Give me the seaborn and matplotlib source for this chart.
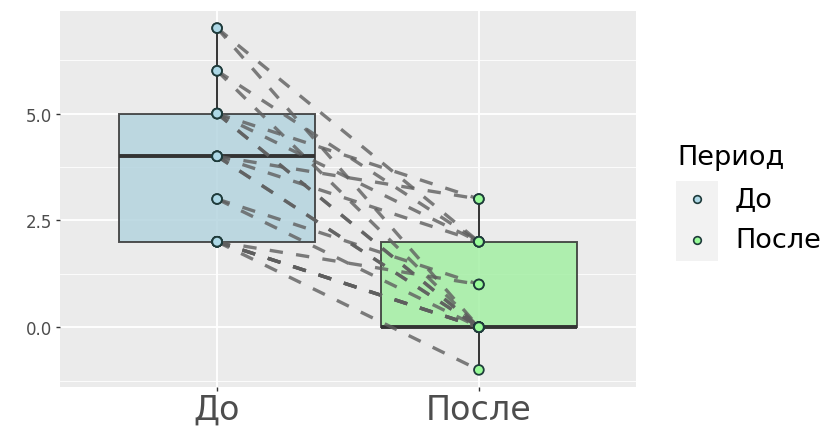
import matplotlib
matplotlib.use("Agg")
import matplotlib.pyplot as plt
from matplotlib.lines import Line2D
from matplotlib.patches import Rectangle
import numpy as np
import pandas as pd
import seaborn as sns

# Paired scores per subject, before and after
periods = ["До", "После"]
before = [7, 7, 6, 6, 5, 5, 5, 5, 4, 4, 4, 4, 3, 3, 2, 2, 2, 2, 2, 2]
after = [2, 0, 2, 0, 3, 2, 0, 0, 2, 3, 0, 0, 1, 0, 0, 0, -1, 1, 0, 0]
y_ticks = [0.0, 2.5, 5.0]
y_tick_labels = ["0.0", "2.5", "5.0"]

colors = {"До": "#ADD8E6", "После": "#98FB98"}
edge = "#333333"
text_col = "#4D4D4D"

n = len(before)
df = pd.DataFrame({
    "id": list(range(n)) * 2,
    "Период": ["До"] * n + ["После"] * n,
    "value": before + after,
})

W, H = 828, 431
fig = plt.figure(figsize=(W / 100, H / 100), dpi=100)
ax = fig.add_axes([60 / W, (H - 388) / H, 576 / W, 376 / H])
ax.set_facecolor("#EBEBEB")

# boxes
sns.boxplot(
    data=df, x="Период", y="value", hue="Период", order=periods,
    hue_order=periods, palette=colors, width=0.75, whis=1.5,
    linecolor=edge, linewidth=1.4, showfliers=False, legend=False,
    boxprops=dict(alpha=0.85), medianprops=dict(linewidth=2.8, color=edge),
    showcaps=False, ax=ax, zorder=2,
)

# dashed lines joining each subject's two scores
sns.lineplot(
    data=df, x="Период", y="value", units="id", estimator=None,
    color="#5E5E5E", alpha=0.8, linewidth=2.4, linestyle=(0, (4, 4)),
    ax=ax, legend=False, zorder=3,
)

# points
sns.stripplot(
    data=df, x="Период", y="value", hue="Период", order=periods,
    hue_order=periods, palette=colors, jitter=False, size=7,
    edgecolor="#1F3B3B", linewidth=1.3, ax=ax, legend=False, zorder=4,
)

ax.set_xlim(-0.6, 1.6)
ax.set_ylim(-1.4, 7.4)
ax.set_yticks(y_ticks)
ax.set_yticklabels(y_tick_labels)
for m in [-1.25, 1.25, 3.75, 6.25]:
    ax.axhline(m, color="white", linewidth=0.6, zorder=0.5)
for t in y_ticks:
    ax.axhline(t, color="white", linewidth=1.3, zorder=0.5)
for xx in [0, 1]:
    ax.axvline(xx, color="white", linewidth=1.3, zorder=0.5)
ax.grid(False)
for s in ax.spines.values():
    s.set_visible(False)
ax.set_xlabel("")
ax.set_ylabel("")
ax.tick_params(axis="y", labelsize=12, labelcolor=text_col, color="#333333",
               length=3, width=1, pad=3)
ax.tick_params(axis="x", labelsize=24, labelcolor=text_col, color="#333333",
               length=3, width=1, pad=1)

# legend
fig.patches.append(Rectangle((676 / W, (H - 262) / H), 42 / W, 80 / H,
                             transform=fig.transFigure, facecolor="#F2F2F2",
                             edgecolor="none"))
fig.text(677 / W, (H - 158) / H, "Период", fontsize=19.5, color="black",
         va="center", ha="left")
for yy, lab in [(200, "До"), (241, "После")]:
    fig.lines.append(Line2D([697 / W], [(H - yy) / H], marker="o",
                            markersize=5.5, markerfacecolor=colors[lab],
                            markeredgecolor="#1F3B3B", markeredgewidth=1.2,
                            transform=fig.transFigure, linestyle="none"))
    fig.text(735 / W, (H - yy) / H, lab, fontsize=19.5, color="black",
             va="center", ha="left")

fig.savefig("out.png", dpi=100, facecolor="white")
